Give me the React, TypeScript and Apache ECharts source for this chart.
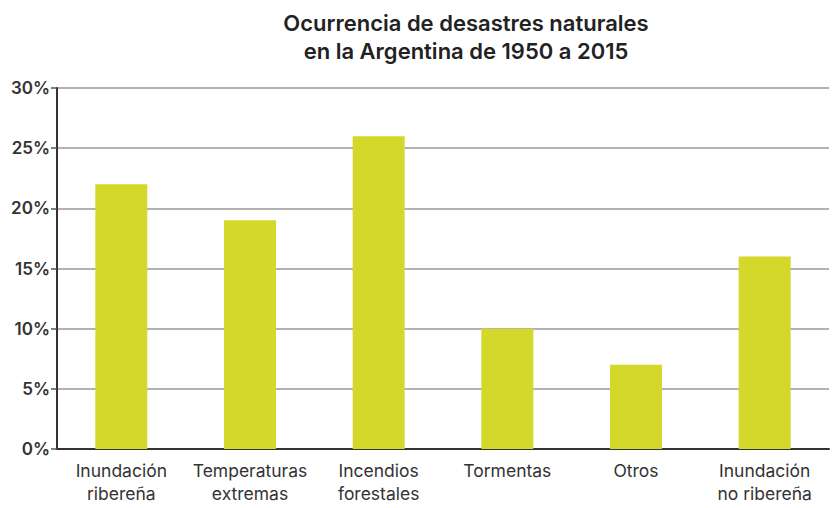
import React, { useEffect, useRef } from "react";
import * as echarts from "echarts";

const categories = [
  "Inundación\nribereña",
  "Temperaturas\nextremas",
  "Incendios\nforestales",
  "Tormentas",
  "Otros",
  "Inundación\nno ribereña",
];
const values = [22, 19, 26, 10, 7, 16];
const titleLines = ["Ocurrencia de desastres naturales", "en la Argentina de 1950 a 2015"];

export default function App() {
  const ref = useRef<HTMLDivElement>(null);
  useEffect(() => {
    if (!ref.current) return;
    const chart = echarts.init(ref.current, null, { renderer: "svg" });
    const font = "Inter";
    chart.setOption({
      animation: false,
      backgroundColor: "#ffffff",
      title: {
        text: titleLines.join("\n"),
        left: 461,
        textAlign: "center",
        top: 4,
        textStyle: {
          fontFamily: font,
          fontSize: 22,
          fontWeight: 600,
          color: "#222",
          lineHeight: 28,
        },
      },
      grid: { left: 57, right: 8, top: 88, bottom: 59, containLabel: false },
      xAxis: {
        type: "category",
        data: categories,
        axisLine: { show: true, lineStyle: { color: "#333", width: 2 } },
        axisTick: { show: false },
        axisLabel: {
          fontFamily: font,
          fontSize: 17.5,
          color: "#333",
          lineHeight: 23,
          margin: 10,
          interval: 0,
        },
      },
      yAxis: {
        type: "value",
        min: 0,
        max: 30,
        interval: 5,
        axisLine: { show: true, lineStyle: { color: "#333", width: 2 } },
        axisTick: { show: true, length: 6, lineStyle: { color: "#555", width: 1.5 } },
        axisLabel: {
          fontFamily: font,
          fontSize: 17,
          fontWeight: 600,
          color: "#333",
          margin: 7,
          formatter: "{value}%",
        },
        splitLine: { show: true, lineStyle: { color: "#999", width: 1.5 } },
      },
      series: [
        {
          type: "bar",
          data: values,
          barWidth: 52,
          itemStyle: { color: "#d4d82a" },
        },
      ],
    });
    return () => chart.dispose();
  }, []);
  return (
    <div
      ref={ref}
      style={{ position: "fixed", left: 0, top: 0, width: 837, height: 508 }}
    />
  );
}
